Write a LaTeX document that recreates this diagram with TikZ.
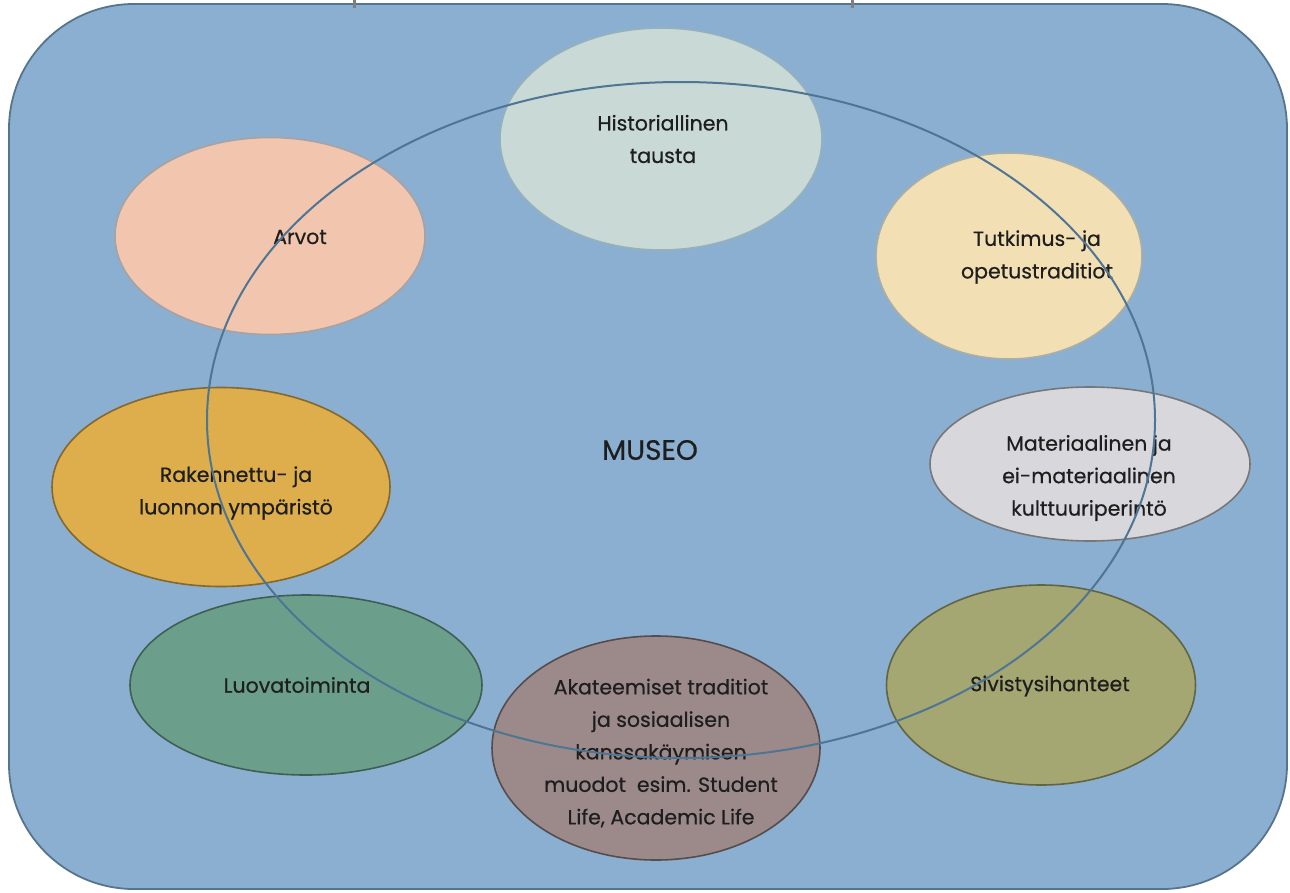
\documentclass[tikz,border=0pt]{standalone}
\usepackage{fontspec}
\setmainfont{Poppins}
\newfontfamily\lblfont[FakeBold=0.5]{Poppins}
\usetikzlibrary{shapes.geometric}
\definecolor{bgblue}{HTML}{8BAFD0}
\definecolor{frame}{HTML}{55758F}
\definecolor{ring}{HTML}{4E7594}
\definecolor{cHist}{HTML}{C8D9D6}
\definecolor{cArv}{HTML}{F2C6AE}
\definecolor{cTut}{HTML}{F3DFB4}
\definecolor{cRak}{HTML}{DDAE4B}
\definecolor{cMat}{HTML}{D8D8DC}
\definecolor{cLuo}{HTML}{6B9F8C}
\definecolor{cAka}{HTML}{9C8A8A}
\definecolor{cSiv}{HTML}{A4A771}
\definecolor{txt}{HTML}{1E1E1E}
\tikzset{
  blob/.style={ellipse, line width=1.6pt, inner sep=0pt},
  lbl/.style={text=txt, align=center, font=\lblfont\fontsize{20.5}{32.5}\selectfont}
}
\begin{document}
\begin{tikzpicture}[x=1pt,y=-1pt]
\useasboundingbox (0,0) rectangle (1290,892);
\fill[white] (0,0) rectangle (1290,892);
% frame
\draw[fill=bgblue, draw=frame, line width=1.8pt, rounded corners=125pt] (9,4) rectangle (1287,889);
% cut-off title remnants
\draw[gray, line width=3pt] (354,0) -- (354,8);
\draw[gray, line width=3pt] (852,0) -- (852,8);
% ellipses
\node[blob, fill=cHist, draw=cHist!60!ring, minimum width=322pt, minimum height=222pt] (hist) at (661,139) {};
\node[blob, fill=cArv, draw=cArv!55!ring, minimum width=310pt, minimum height=197pt] (arv) at (270,236) {};
\node[blob, fill=cTut, draw=cTut!55!ring, minimum width=266pt, minimum height=206pt] (tut) at (1009,256) {};
\node[blob, fill=cRak, draw=cRak!60!black, minimum width=338pt, minimum height=199pt] (rak) at (221,487) {};
\node[blob, fill=cMat, draw=cMat!55!black, minimum width=320pt, minimum height=154pt] (mat) at (1090,464) {};
\node[blob, fill=cLuo, draw=cLuo!60!black, minimum width=352pt, minimum height=180pt] (luo) at (306,685) {};
\node[blob, fill=cSiv, draw=cSiv!60!black, minimum width=309pt, minimum height=200pt] (siv) at (1041,685) {};
\node[blob, fill=cAka, draw=cAka!55!black, minimum width=328pt, minimum height=224pt] (aka) at (656,748) {};
% labels
\node[lbl] (thist) at (663,139) {Historiallinen\\tausta};
\node[lbl] (tarv) at (300,237) {Arvot};
\node[lbl] (ttut) at (1037,257) {Tutkimus- ja\\opetustraditiot};
\node[lbl] (trak) at (236,493) {Rakennettu- ja\\luonnon ympäristö};
\node[lbl] (tmat) at (1089,478) {Materiaalinen ja\\ei-materiaalinen\\kulttuuriperintö};
\node[lbl] (tluo) at (297,685) {Luovatoiminta};
\node[lbl] (tsiv) at (1050,686) {Sivistysihanteet};
\node[lbl] (taka) at (661,753) {Akateemiset traditiot\\ja sosiaalisen\\kanssakäymisen\\muodot\ \ esim. Student\\Life, Academic Life};
\node[text=txt, font=\lblfont\fontsize{28}{32}\selectfont] (museo) at (650,450) {MUSEO};
% ring
\draw[ring, line width=2pt] (681,420) ellipse [x radius=474pt, y radius=338pt];
\end{tikzpicture}
\end{document}
